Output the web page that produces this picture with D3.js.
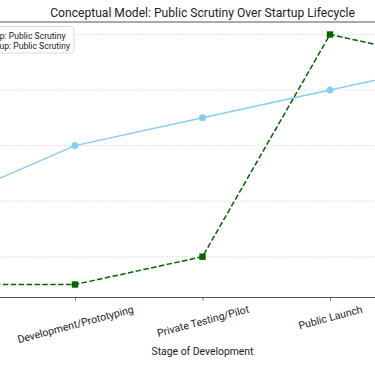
<!DOCTYPE html>
<html><head><meta charset="utf-8">
<script src="https://cdn.jsdelivr.net/npm/d3@7"></script>
<style>html,body{margin:0;padding:0;background:#fff;overflow:hidden}svg{display:block;font-family:Roboto,"Noto Sans",sans-serif}</style>
</head><body><svg id="c" width="375" height="366"></svg>
<script>
const categories = ["Ideation", "Development/Prototyping", "Private Testing/Pilot", "Public Launch", "Scaling/Growth"];
const traditionalScrutiny = [4, 6, 7, 8, 9];
const stealthScrutiny = [1, 1, 2, 10, 9];
const seriesNames = ["Traditional Startup: Public Scrutiny", "Stealth AI Startup: Public Scrutiny"];
const yTicks = [2, 4, 6, 8, 10];
const title = "Conceptual Model: Public Scrutiny Over Startup Lifecycle";
const xLabel = "Stage of Development";

const svg = d3.select("#c");
const L = -78, R = 483, T = 22, B = 297;
const x = d3.scaleLinear().domain([-0.2, categories.length - 1 + 0.2]).range([L, R]);
const y = d3.scaleLinear().domain([0.55, 10.45]).range([B, T]);

function fitSize(sel, target) {
  sel.attr("font-size", 12);
  const w = sel.node().getComputedTextLength();
  sel.attr("font-size", 12 * target / w);
}

// grid
svg.append("g").selectAll("line").data(yTicks).join("line")
  .attr("x1", L).attr("x2", R).attr("y1", d => y(d)).attr("y2", d => y(d))
  .attr("stroke", "#c8c8c8").attr("stroke-width", 0.8).attr("stroke-dasharray", "1,1.5");

// spines
svg.append("line").attr("x1", L).attr("x2", R).attr("y1", T).attr("y2", T).attr("stroke", "#555").attr("stroke-width", 1);

// x axis
const xAxis = d3.axisBottom(x).tickValues(d3.range(categories.length)).tickFormat(i => categories[i]).tickSize(3.5).tickSizeOuter(0);
const gx = svg.append("g").attr("transform", `translate(0,${B})`).call(xAxis);
gx.select(".domain").attr("stroke", "#555").attr("stroke-width", 1);
gx.selectAll(".tick line").attr("stroke", "#555").attr("stroke-width", 0.8);
const fsTick = 10.5;
const s15 = Math.sin(15 * Math.PI / 180), c15 = Math.cos(15 * Math.PI / 180);
gx.selectAll(".tick text").attr("font-family", "Roboto").attr("font-size", fsTick).attr("fill", "#222")
  .attr("text-anchor", "middle").attr("y", 0).attr("dy", "0.35em")
  .each(function () {
    const w = this.getComputedTextLength();
    const cy = 6.5 + (w * s15 + fsTick * 1.05 * c15) / 2;
    d3.select(this).attr("transform", `translate(0,${cy}) rotate(-15)`);
  });

// lines
const line = d3.line().x((d, i) => x(i)).y(d => y(d));
svg.append("path").datum(traditionalScrutiny).attr("d", line).attr("fill", "none")
  .attr("stroke", "#87CEEB").attr("stroke-width", 1.5);
svg.append("g").selectAll("circle").data(traditionalScrutiny).join("circle")
  .attr("cx", (d, i) => x(i)).attr("cy", d => y(d)).attr("r", 3.5).attr("fill", "#87CEEB");

svg.append("path").datum(stealthScrutiny).attr("d", line).attr("fill", "none")
  .attr("stroke", "#006400").attr("stroke-width", 1.5).attr("stroke-dasharray", "5.5,2.4");
svg.append("g").selectAll("rect").data(stealthScrutiny).join("rect")
  .attr("x", (d, i) => x(i) - 3.2).attr("y", d => y(d) - 3.2).attr("width", 6.4).attr("height", 6.4).attr("fill", "#006400");

// title & x label
const tt = svg.append("text").attr("x", (L + R) / 2).attr("y", 17).attr("text-anchor", "middle")
  .attr("fill", "#222").text(title);
fitSize(tt, 305);
const xl = svg.append("text").attr("x", (L + R) / 2).attr("y", 355).attr("text-anchor", "middle")
  .attr("fill", "#222").text(xLabel);
fitSize(xl, 102);

// legend
const lg = svg.append("g");
lg.append("rect").attr("x", -150).attr("y", 26.5).attr("width", 224).attr("height", 26.5).attr("rx", 2.5)
  .attr("fill", "#fff").attr("fill-opacity", 0.85).attr("stroke", "#d0d0d0").attr("stroke-width", 0.8);
const lx = [65.5, 70];
const ly = [38.5, 49];
const colors = ["#87CEEB", "#006400"];
seriesNames.forEach((n, i) => {
  lg.append("line").attr("x1", -140).attr("x2", -120).attr("y1", ly[i] - 3).attr("y2", ly[i] - 3)
    .attr("stroke", colors[i]).attr("stroke-width", 1.5).attr("stroke-dasharray", i ? "5.5,2.4" : null);
  lg.append("text").attr("x", lx[i]).attr("y", ly[i]).attr("text-anchor", "end")
    .attr("font-size", 8.6).attr("fill", "#222").text(n);
});
</script></body></html>
